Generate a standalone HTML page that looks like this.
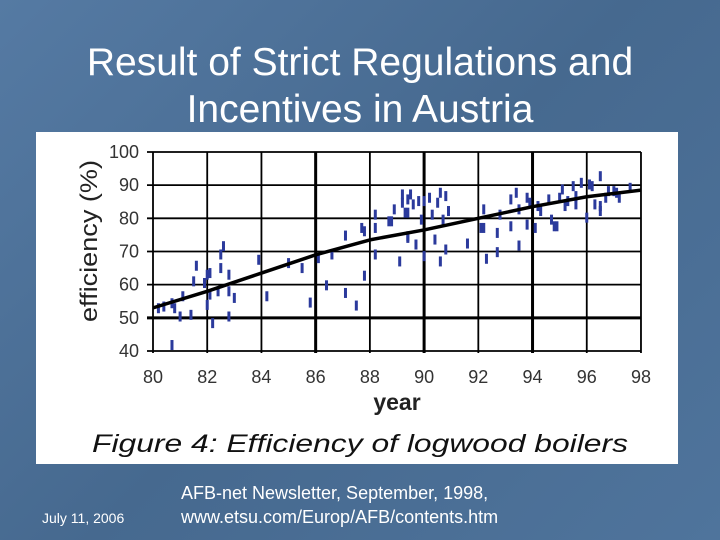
<!DOCTYPE html>
<html><head><meta charset="utf-8"><style>
html,body{margin:0;padding:0}
body{width:720px;height:540px;overflow:hidden;background:#4b6f98;position:relative;font-family:"Liberation Sans",sans-serif}
.bg{position:absolute;inset:0;background:linear-gradient(135deg,#557aa3 0%,#46698f 50%,#4f749c 100%)}
.title{position:absolute;left:0;width:720px;top:39px;text-align:center;color:#fff;font-size:39px;line-height:47px}
.foot{position:absolute;color:#fff}
</style></head><body>
<div class="bg"></div>
<div class="title">Result of Strict Regulations and<br>Incentives in Austria</div>
<svg id="chart" width="720" height="540" style="position:absolute;left:0;top:0">
<rect x="36" y="132" width="642" height="332" fill="#fff"/>
<g id="grid"></g><g id="marks"></g><g id="labels"></g>
<text x="397" y="410" text-anchor="middle" font-size="23" font-weight="bold" fill="#222">year</text>
<text transform="translate(97,241) rotate(-90)" text-anchor="middle" font-size="24" fill="#222" textLength="162" lengthAdjust="spacingAndGlyphs">efficiency (%)</text>
<text x="92" y="452" font-size="25" font-style="italic" fill="#111" textLength="536" lengthAdjust="spacingAndGlyphs">Figure 4: Efficiency of logwood boilers</text>
</svg>
<div class="foot" style="left:42px;top:510px;font-size:14px">July 11, 2006</div>
<div class="foot" style="left:181px;top:481px;font-size:18px;line-height:24px">AFB-net Newsletter, September, 1998,<br>www.etsu.com/Europ/AFB/contents.htm</div>
<script>
const xTicks=[80,82,84,86,88,90,92,94,96,98];
const yTicks=[40,50,60,70,80,90,100];
const years=[80.2,80.4,80.7,80.7,80.8,81.0,81.1,81.4,81.5,81.6,81.9,82.0,82.0,82.1,82.1,82.2,82.4,82.5,82.5,82.6,82.8,82.8,82.8,83.0,83.9,84.2,85.0,85.5,85.8,86.1,86.4,86.6,87.1,87.1,87.5,87.7,87.8,87.8,88.2,88.2,88.2,88.7,88.8,88.9,89.1,89.2,89.4,89.4,89.4,89.2,89.3,89.4,89.5,89.6,89.7,89.8,89.9,90.0,90.0,90.2,90.3,90.4,90.5,90.6,90.6,90.7,90.8,90.8,90.9,91.6,92.1,92.2,92.2,92.3,92.7,92.7,92.8,93.2,93.2,93.4,93.5,93.5,93.8,93.8,93.9,94.1,94.2,94.3,94.6,94.7,94.8,94.9,95.0,95.1,95.2,95.3,95.5,95.6,95.6,95.8,96.0,96.1,96.2,96.3,96.5,96.5,96.5,96.7,96.8,97.0,97.1,97.2,97.6];
const effs=[52.9,53.4,54.4,41.8,52.9,50.4,56.5,50.9,61.0,65.7,60.5,63.0,53.9,57.0,63.5,48.4,58.0,69.1,65.0,71.6,58.0,63.0,50.4,56.0,67.5,56.5,66.5,65.0,54.6,68.0,59.8,69.1,74.8,57.5,53.7,77.1,62.7,76.1,77.1,81.1,69.1,79.1,79.1,82.7,67.0,87.2,85.7,81.7,74.6,84.7,81.7,74.1,87.2,84.2,72.1,85.2,79.6,68.6,85.2,86.2,81.1,73.6,84.7,87.7,67.0,79.6,70.6,86.7,82.2,72.4,77.1,77.1,82.7,67.8,75.6,69.8,81.1,77.6,85.7,87.7,71.8,82.7,86.2,78.1,84.7,77.1,83.7,82.2,85.7,79.6,77.6,77.6,86.2,88.7,83.7,85.2,89.7,84.2,86.7,90.7,80.2,90.2,89.7,84.2,83.7,82.2,92.7,86.2,88.2,88.2,87.7,86.2,89.2];
const trendYears=[80,82,84,86,88,90,92,94,96,98];
const trendEffs=[53,58,63.5,69,73.5,76.5,80,83.5,86.5,88.5];
const NS='http://www.w3.org/2000/svg';
const X=v=>153+(v-80)*27.11, Y=v=>351-(v-40)*3.317;
function mk(tag,attrs,parent){const e=document.createElementNS(NS,tag);for(const k in attrs)e.setAttribute(k,attrs[k]);parent.appendChild(e);return e;}
const grid=document.getElementById('grid'),marks=document.getElementById('marks'),labels=document.getElementById('labels');
xTicks.forEach(t=>{
 const l=mk('line',{x1:X(t),x2:X(t),y1:Y(100),y2:Y(40)+2,stroke:'#000','stroke-width':(t==86||t==90||t==94)?3:1.8},grid);
 
 
 const tx=mk('text',{x:X(t),y:383,'text-anchor':'middle','font-size':18,fill:'#333'},labels);
 tx.textContent=t;
 
 
});
yTicks.forEach(t=>{
 const l=mk('line',{x1:X(80)-6,x2:X(98),y1:Y(t),y2:Y(t),stroke:'#000','stroke-width':t==50?3:1.8},grid);
 
 
 const tx=mk('text',{x:139,y:Y(t)+6,'text-anchor':'end','font-size':18,fill:'#333'},labels);
 tx.textContent=t;
 
 
});
years.forEach((yr,i)=>{
 const r=mk('rect',{x:X(yr)-1.5,y:Y(effs[i])-5,width:3,height:10,fill:'#2b3a9c'},marks);
 
 
});
const p=mk('polyline',{points:trendYears.map((t,i)=>X(t)+','+Y(trendEffs[i])).join(' '),fill:'none',stroke:'#000','stroke-width':3.5,'stroke-linejoin':'round'},marks);


</script>
</body></html>
